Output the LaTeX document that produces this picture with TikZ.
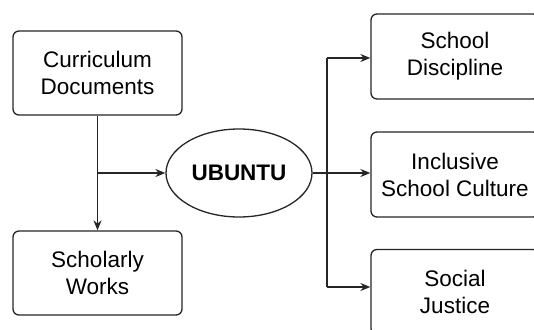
\documentclass[tikz,border=0pt]{standalone}
\usepackage{fontspec}
\setmainfont{Liberation Sans}
\usetikzlibrary{arrows.meta,shapes.geometric}
\begin{document}
\begin{tikzpicture}[x=1pt,y=1pt,
  box/.style={draw=black!85,line width=1.3pt,rounded corners=6pt,fill=white,
    minimum width=169pt,minimum height=84pt,align=center,inner sep=0pt,
    font=\fontsize{22.5}{27}\selectfont},
  link/.style={draw=black!85,line width=1.3pt},
  arr/.style={link,-{Stealth[length=10pt,width=8pt]}}]
\useasboundingbox (0,0) rectangle (534,329);
\fill[white] (0,0) rectangle (534,329);
\clip (0,0) rectangle (534,329);
\node[box] (cur) at (97.5,256) {Curriculum\\Documents};
\node[box] (sch) at (97.5,56) {Scholarly\\Works};
\node[draw=black!85,line width=1.3pt,ellipse,minimum width=146pt,minimum height=88pt,inner sep=0pt,
  font=\fontsize{22.5}{27}\selectfont\bfseries] (ub) at (239,156) {UBUNTU};
\node[box,minimum width=168pt,minimum height=85pt] (dis) at (455,272.5) {School\\Discipline};
\node[box,minimum width=168pt,minimum height=85pt] (inc) at (455,154.5) {Inclusive\\School Culture};
\node[box,minimum width=168pt,minimum height=85pt] (soc) at (455,37) {Social\\Justice};
\coordinate (j1) at (cur.south |- ub.west);
\coordinate (t1) at (327,271);
\coordinate (t2) at (327,42);
\draw[arr] (cur.south) -- (sch.north);
\draw[arr] (j1) -- (ub.west);
\draw[arr] (ub.east) -- (ub.east -| inc.west);
\draw[link] (t1) -- (t2);
\draw[arr] (t1) -- (t1 -| dis.west);
\draw[arr] (t2) -- (t2 -| soc.west);
\end{tikzpicture}
\end{document}
